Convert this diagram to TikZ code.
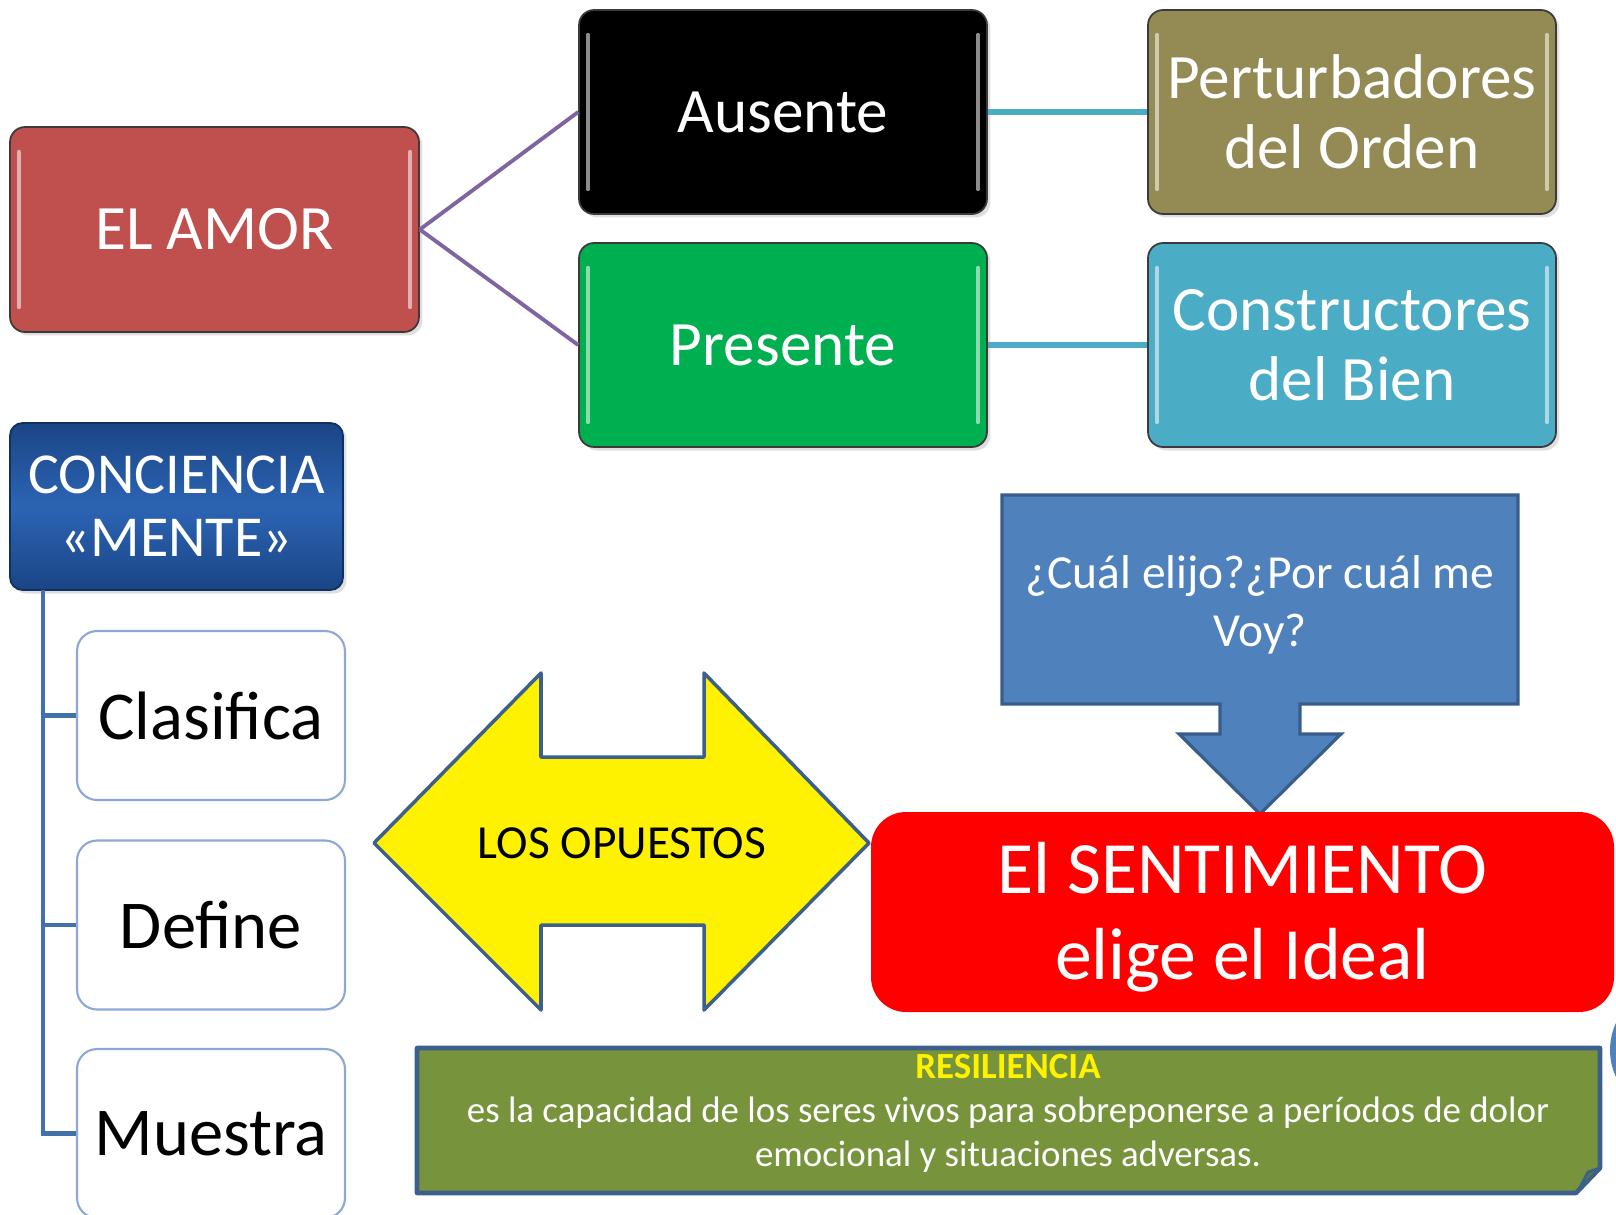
\documentclass[tikz,border=0pt]{standalone}
\usepackage{fontspec}
\setmainfont{Carlito}
\usetikzlibrary{shadows}

\definecolor{amorred}{HTML}{C0504D}
\definecolor{olivebox}{HTML}{948A54}
\definecolor{greenbox}{HTML}{00B050}
\definecolor{tealbox}{HTML}{4BACC6}
\definecolor{concdark}{HTML}{1A4585}
\definecolor{concmid}{HTML}{2C64B4}
\definecolor{rimgray}{HTML}{3A3A3A}
\definecolor{treeblue}{HTML}{4170AA}
\definecolor{paleblue}{HTML}{8CA8D4}
\definecolor{purpleline}{HTML}{8064A2}
\definecolor{calloutblue}{HTML}{4F81BD}
\definecolor{calloutrim}{HTML}{385D8A}
\definecolor{shapeedge}{HTML}{3C5F8C}
\definecolor{resilgreen}{HTML}{77933C}

\tikzset{
    glossy/.style={path picture={
        \draw[white, opacity=0.55, line width=2pt, line cap=round]
            ([xshift=5pt, yshift=-14pt]path picture bounding box.north west) --
            ([xshift=5pt, yshift=14pt]path picture bounding box.south west)
            ([xshift=-5pt, yshift=-14pt]path picture bounding box.north east) --
            ([xshift=-5pt, yshift=14pt]path picture bounding box.south east);
    }},
    bigbox/.style={draw=rimgray, line width=1pt, rounded corners=0.3cm,
        text=white, align=center, minimum width=8.16cm, minimum height=4.08cm,
        inner sep=0pt, font=\fontsize{36}{40}\selectfont, glossy,
        drop shadow={opacity=0.25, shadow xshift=2pt, shadow yshift=-2pt}},
    leafbox/.style={draw=paleblue, line width=1.2pt, rounded corners=0.4cm,
        fill=white, text=black, minimum width=5.36cm, minimum height=3.38cm,
        font=\fontsize{39}{42}\selectfont},
    twig/.style={draw=treeblue, line width=2.4pt},
    branch/.style={draw=purpleline, line width=2.2pt},
    bridge/.style={draw=tealbox, line width=3.4pt}
}

\begin{document}
\begin{tikzpicture}[x=0.02cm, y=-0.02cm]
    \useasboundingbox (0,0) rectangle (1616,1214);
    \clip (0,0) rectangle (1616,1214);

    % Nodes
    \node[bigbox, fill=amorred, minimum width=8.18cm, minimum height=4.1cm] at (214.5, 229.5) (amor) {EL AMOR};
    \node[bigbox, fill=black] at (783, 112) (ausente) {Ausente};
    \node[bigbox, fill=greenbox] at (783, 345) (presente) {Presente};
    \node[bigbox, fill=olivebox, font=\fontsize{36}{40}\selectfont] at (1352, 112) (perturb) {Perturbadores\\del Orden};
    \node[bigbox, fill=tealbox] at (1352, 345) (constr) {Constructores\\del Bien};

    \node[draw=concdark!70!black, line width=1pt, rounded corners=0.25cm,
          top color=concdark, bottom color=concdark, middle color=concmid,
          text=white, align=center, minimum width=6.66cm, minimum height=3.34cm,
          inner sep=0pt, font=\fontsize{33}{36}\selectfont,
          drop shadow={opacity=0.25, shadow xshift=2pt, shadow yshift=-2pt}]
          at (176.5, 506.5) (conciencia) {CONCIENCIA\\«MENTE»};

    \node[leafbox] at (211, 715.5) (clasifica) {Clasifica};
    \node[leafbox] at (211, 925) (define) {Define};
    \node[leafbox] at (211, 1133.5) (muestra) {Muestra};

    % Edges
    \draw[branch] (amor.east) -- (ausente.west);
    \draw[branch] (amor.east) -- (presente.west);
    \draw[bridge] (ausente.east) -- (perturb.west);
    \draw[bridge] (presente.east) -- (constr.west);

    \coordinate (trunk) at (43, 590);
    \draw[twig] (trunk) |- (clasifica.west);
    \draw[twig] (trunk) |- (define.west);
    \draw[twig] (trunk) |- (muestra.west);

    % Opposites arrow
    \draw[fill=yellow, draw=shapeedge, line width=2pt, line join=round]
        (374, 843) -- (541, 673) -- (541, 757) -- (704, 757) -- (704, 673)
        -- (869, 843) -- (704, 1010) -- (704, 925) -- (541, 925) -- (541, 1010) -- cycle;
    \node[font=\fontsize{27}{30}\selectfont] at (622, 843) (opuestos) {LOS OPUESTOS};

    % Question callout
    \draw[fill=calloutblue, draw=calloutrim, line width=1.8pt, line join=miter]
        (1002, 495) -- (1518, 495) -- (1518, 704) -- (1300, 704) -- (1300, 734)
        -- (1341, 734) -- (1260, 814) -- (1179, 734) -- (1220, 734) -- (1220, 704)
        -- (1002, 704) -- cycle;
    \node[text=white, align=center, font=\fontsize{27}{33}\selectfont] at (1260, 605) (pregunta)
        {¿Cuál elijo?¿Por cuál me\\Voy?};

    % Feeling
    \fill[red, rounded corners=0.7cm] (871, 812) rectangle (1614, 1012);
    \node[text=white, align=center, font=\fontsize{42}{49}\selectfont]
          at (1242.5, 917) (sentimiento) {El SENTIMIENTO\\elige el Ideal};

    % Resilience note
    \draw[fill=resilgreen, draw=shapeedge, line width=2.6pt, line join=round]
        (417, 1048) -- (1600, 1048) -- (1600, 1168) -- (1576, 1193) -- (417, 1193) -- cycle;
    \draw[fill=resilgreen!80!black, draw=shapeedge, line width=1.6pt, line join=round]
        (1600, 1168) -- (1588, 1172) -- (1578, 1191) -- cycle;
    \node[text=white, align=center, font=\fontsize{21}{25}\selectfont] at (1008, 1113) (resil)
        {\textcolor{yellow}{\textbf{RESILIENCIA}}\\es la capacidad de los seres vivos para sobreponerse a períodos de dolor\\emocional y situaciones adversas.};

    \fill[calloutblue] (1674, 1050) circle (64);
\end{tikzpicture}
\end{document}
